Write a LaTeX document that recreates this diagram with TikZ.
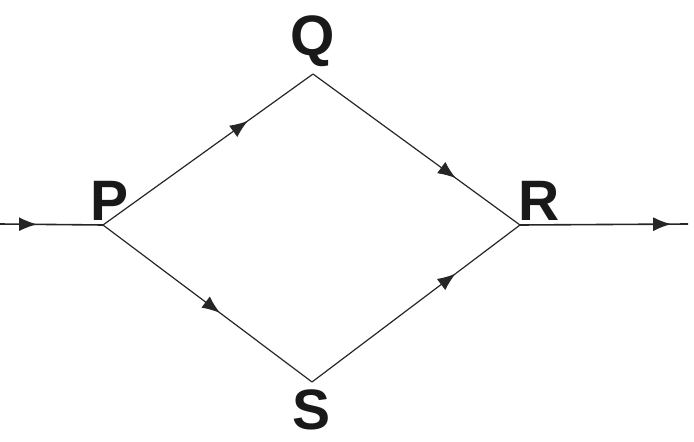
\documentclass[tikz,border=0pt]{standalone}
\usepackage{fontspec}
\setmainfont{Liberation Sans}
\usetikzlibrary{arrows.meta,decorations.markings}
\tikzset{
  lbl/.style={font=\bfseries\fontsize{57}{60}\selectfont, anchor=base, inner sep=0pt, text=black!90},
  edge/.style={line width=1.2pt, draw=black!85},
  midarrow/.style={postaction={decorate, decoration={markings,
     mark=at position #1 with {\arrow{Latex[length=18pt,width=14pt]}}}}}
}
\begin{document}
\begin{tikzpicture}[x=1pt,y=-1pt]
\useasboundingbox (0,0) rectangle (694,442);
\coordinate (in) at (0,224);
\coordinate (out) at (688,224);
\coordinate (P) at (103,225);
\coordinate (Q) at (313,74);
\coordinate (R) at (520,225);
\coordinate (S) at (312,382);
\node[lbl] (lP) at (110,220) {P};
\node[lbl] (lQ) at (313,55) {Q};
\node[lbl] (lR) at (539,220) {R};
\node[lbl] (lS) at (312,429) {S};
\draw[edge, line width=1.6pt, midarrow=0.36] (in) -- (P);
\draw[edge, midarrow=0.69] (P) -- (Q);
\draw[edge, midarrow=0.69] (Q) -- (R);
\draw[edge, midarrow=0.56] (P) -- (S);
\draw[edge, midarrow=0.69] (S) -- (R);
\draw[edge, line width=1.6pt, midarrow=0.9] (R) -- (out);
\end{tikzpicture}
\end{document}
